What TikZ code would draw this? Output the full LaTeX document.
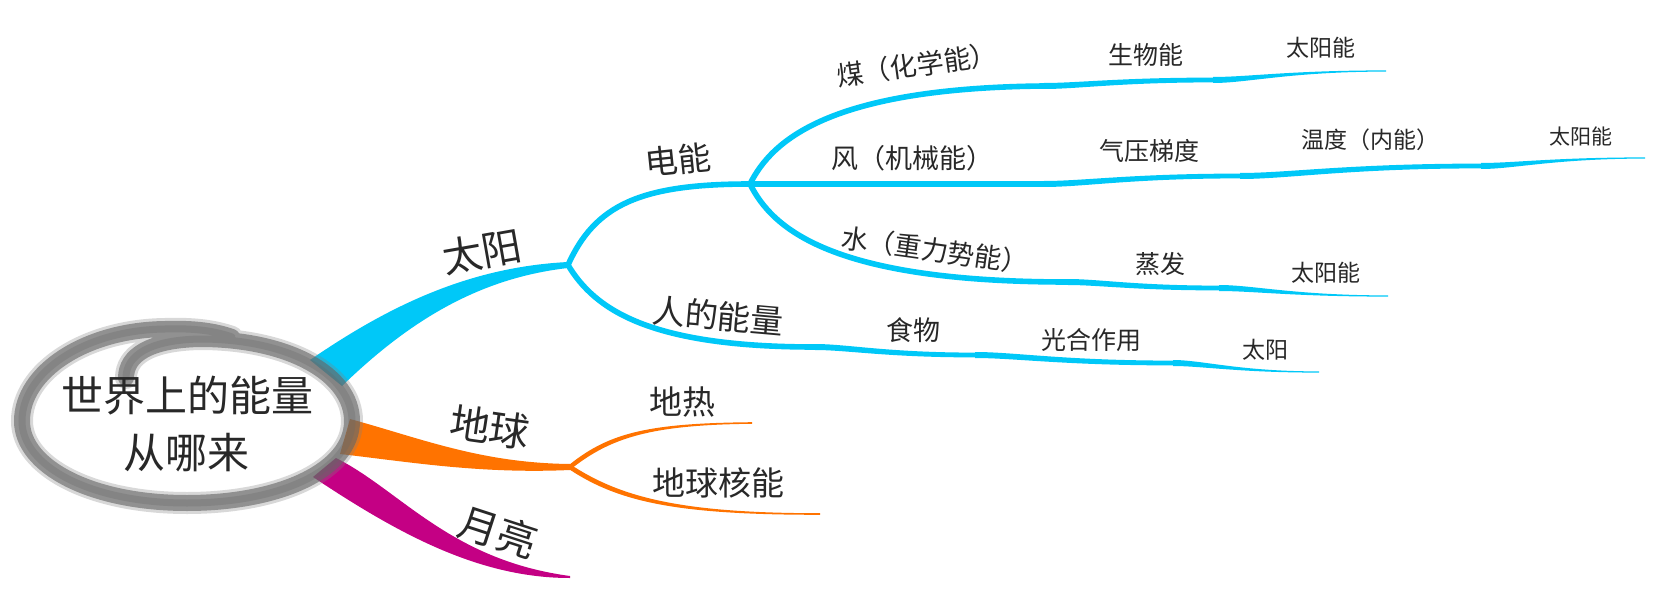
\documentclass[tikz,border=0pt]{standalone}
\usepackage{fontspec}
\newfontfamily\cjk{Noto Sans CJK SC}
\usetikzlibrary{calc}

\definecolor{sky}{RGB}{0,200,248}
\definecolor{amber}{RGB}{255,115,0}
\definecolor{plum}{RGB}{196,0,132}
\definecolor{ink}{RGB}{40,40,40}

% tapered ribbon between two named points, horizontal tangents at both ends
\newcommand\seg[5]{%
  \fill[#1] let \p1=(#2), \p2=(#3) in
    (\x1,\y1+#4pt) .. controls ({0.8*\x1+0.2*\x2},\y1+#4pt) and ({0.55*\x1+0.45*\x2},\y2+#5pt) .. (\x2,\y2+#5pt)
    -- (\x2,\y2-#5pt) .. controls ({0.55*\x1+0.45*\x2},\y2-#5pt) and ({0.8*\x1+0.2*\x2},\y1-#4pt) .. (\x1,\y1-#4pt)
    -- cycle;}
% tapered ribbon with explicit control points
\newcommand\taperpath[7]{%
  \fill[#1] let \p1=(#2), \p2=(#3), \p3=(#4), \p4=(#5) in
    (\x1,\y1+#6pt) .. controls (\x2,\y2+#6pt) and (\x3,\y3+#7pt) .. (\x4,\y4+#7pt)
    -- (\x4,\y4-#7pt) .. controls (\x3,\y3-#7pt) and (\x2,\y2-#6pt) .. (\x1,\y1-#6pt)
    -- cycle;}

\tikzset{
  lbl/.style={text=ink, inner sep=0pt},
  hubtext/.style={lbl, font=\cjk\fontsize{21}{28.5}\selectfont, align=center},
  lvA/.style={lbl, font=\cjk\fontsize{20}{24}\selectfont},
  lvB/.style={lbl, font=\cjk\fontsize{16.5}{20}\selectfont},
  lvC/.style={lbl, font=\cjk\fontsize{13.5}{16}\selectfont},
  lvD/.style={lbl, font=\cjk\fontsize{12.5}{15}\selectfont},
  lvE/.style={lbl, font=\cjk\fontsize{11.5}{14}\selectfont},
  lvF/.style={lbl, font=\cjk\fontsize{10.5}{13}\selectfont},
  twig/.style={draw=sky, line width=2.8pt, line cap=round},
}

\begin{document}
\begin{tikzpicture}[x=0.5pt, y=-0.5pt]
\fill[white] (0,0) rectangle (1653,604);
\useasboundingbox (0,0) rectangle (1653,604);

% branch points
\coordinate (F1) at (568,265);
\coordinate (F2) at (750,184);
\coordinate (T1) at (1044,86);
\coordinate (T2) at (1213,80);
\coordinate (T3) at (1386,71);
\coordinate (M1) at (1044,184);
\coordinate (M2) at (1240,176);
\coordinate (M3) at (1481,166);
\coordinate (M4) at (1645,158);
\coordinate (W1) at (1068,282);
\coordinate (W2) at (1219,288);
\coordinate (W3) at (1388,296);
\coordinate (P1) at (815,347);
\coordinate (P2) at (975,355);
\coordinate (P3) at (1173,363);
\coordinate (P4) at (1319,372);
\coordinate (G0) at (570,467);
\coordinate (G1) at (752,423);
\coordinate (G2) at (820,514);

% main limbs
\fill[sky] (310,360) .. controls (390,305) and (470,267) .. ($(F1)+(0,-3)$)
  -- ($(F1)+(0,3)$) .. controls (480,278) and (410,320) .. (342,386) -- cycle;
\fill[amber] (350,419) .. controls (420,438) and (480,463) .. ($(G0)+(0,-3)$)
  -- ($(G0)+(0,3)$) .. controls (480,474) and (410,462) .. (340,454) -- cycle;
\fill[plum] (336,458) .. controls (400,490) and (450,560) .. (570,576)
  -- (570,578) .. controls (480,578) and (400,535) .. (313,477) -- cycle;

% sun: secondary branches
\draw[twig] (F1) .. controls (595,205) and (640,184) .. (F2);
\draw[twig] (F1) .. controls (595,310) and (650,347) .. (P1);
\draw[twig] (F2) .. controls (772,140) and (830,88) .. (T1);
\draw[twig] (F2) -- (M1);
\draw[twig] (F2) .. controls (772,228) and (830,282) .. (W1);

% sun: chains
\seg{sky}{T1}{T2}{1.5}{1.2}
\seg{sky}{T2}{T3}{1.5}{0.3}
\seg{sky}{M1}{M2}{1.5}{1.2}
\seg{sky}{M2}{M3}{1.5}{1.2}
\seg{sky}{M3}{M4}{1.5}{0.3}
\seg{sky}{W1}{W2}{1.5}{1.2}
\seg{sky}{W2}{W3}{1.5}{0.3}
\seg{sky}{P1}{P2}{1.5}{1.2}
\seg{sky}{P2}{P3}{1.5}{1.2}
\seg{sky}{P3}{P4}{1.5}{0.3}

% earth: secondary branches
\taperpath{amber}{G0}{610,435}{650,424}{G1}{1.4}{0.4}
\taperpath{amber}{G0}{620,500}{680,514}{G2}{1.4}{0.4}

% pencil ring round the central topic: soft halo, then a translucent core
\foreach \w/\c/\o in {11/black!50/0.3, 8/black!60/0.62, 3.5/black!60/0.3}
  \draw[line width=\w pt, \c, opacity=\o, line cap=round]
    (126,378) .. controls (126,355) and (150,340) .. (200,339)
    .. controls (290,339) and (352,375) .. (352,421)
    .. controls (352,470) and (280,503) .. (187,503)
    .. controls (90,503) and (22,466) .. (22,421)
    .. controls (22,372) and (85,330) .. (165,329)
    .. controls (195,328) and (215,331) .. (232,337);

% texts
\node[hubtext] (hub) at (187,424) {世界上的能量\\从哪来};

\node[lvA, rotate=10] (sun) at (482,252) {太阳};
\node[lvA, rotate=-8] (earth) at (490,427) {地球};
\node[lvA, rotate=-18] (moon) at (498,532) {月亮};

\node[lvB, rotate=6] (elec) at (678,160) {电能};
\node[lvB, rotate=-5] (human) at (718,316) {人的能量};
\node[lvB] (geo) at (682,402) {地热};
\node[lvB] (nuke) at (718,483) {地球核能};

\node[lvC, rotate=8] (coal) at (917,65) {煤（化学能）};
\node[lvC] (wind) at (912,158) {风（机械能）};
\node[lvC, rotate=-8] (water) at (935,250) {水（重力势能）};
\node[lvC] (food) at (913,330) {食物};

\node[lvD] (bio) at (1146,55) {生物能};
\node[lvD] (press) at (1149,151) {气压梯度};
\node[lvD] (evap) at (1160,264) {蒸发};
\node[lvD] (photo) at (1091,340) {光合作用};

\node[lvE] (solarA) at (1321,48) {太阳能};
\node[lvE] (temp) at (1370,140) {温度（内能）};
\node[lvE] (solarC) at (1326,273) {太阳能};
\node[lvE] (sunD) at (1265,350) {太阳};

\node[lvF] (solarB) at (1581,137) {太阳能};
\end{tikzpicture}
\end{document}
